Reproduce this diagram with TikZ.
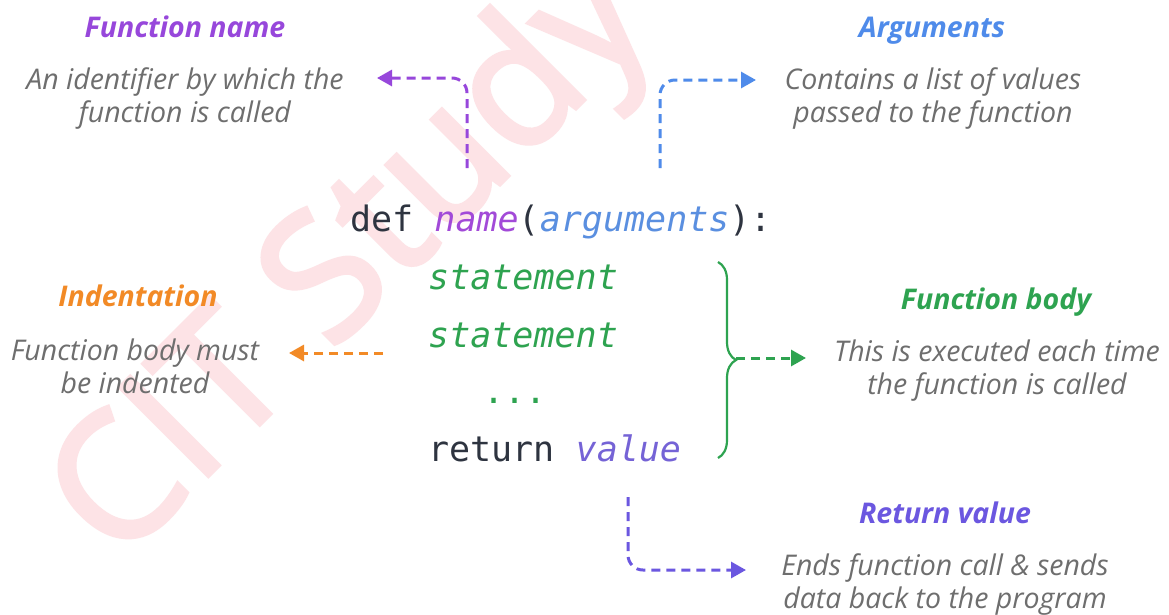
\documentclass[tikz,border=0pt]{standalone}
\usepackage{fontspec}
\setmainfont{Open Sans}
\setmonofont{DejaVu Sans Mono}
\newfontfamily\wmfont[FakeBold=2.5]{Open Sans}
\usetikzlibrary{arrows.meta,decorations.pathreplacing}
\definecolor{cpurple}{HTML}{9747DB}
\definecolor{cblue}{HTML}{4F8BEA}
\definecolor{corange}{HTML}{F28A26}
\definecolor{cgreen}{HTML}{2EA350}
\definecolor{cviolet}{HTML}{6B57E0}
\definecolor{cgray}{HTML}{6E6E6E}
\definecolor{cdark}{HTML}{2E3440}
\definecolor{cname}{HTML}{A24AD8}
\definecolor{cargs}{HTML}{5A8FE0}
\definecolor{cvalue}{HTML}{7563D6}
\definecolor{cwm}{HTML}{FDE3E6}
\tikzset{
  head/.style={font=\fontsize{28.5}{33}\selectfont\bfseries\itshape, inner sep=0pt, anchor=base},
  desc/.style={font=\fontsize{28.5}{33}\selectfont\itshape, text=cgray, align=center, inner sep=0pt},
  code/.style={font=\fontsize{35}{40}\selectfont\ttfamily, inner sep=0pt, anchor=base west},
  conn/.style={line width=3pt, dash pattern=on 9pt off 6pt, rounded corners=15pt,
    -{Triangle[length=15pt,width=16pt]}},
}
\begin{document}
\begin{tikzpicture}[x=1pt,y=-1pt]
\useasboundingbox (0,0) rectangle (1169,614);
\fill[white] (0,0) rectangle (1169,614);
\begin{scope}
\clip (0,0) rectangle (1169,614);
\node[anchor=base west, rotate=45, inner sep=0pt, text=cwm,
  font=\fontsize{175}{175}\wmfont] (wm) at (118,566) {CIT Study};
\end{scope}

% headings
\node[head, text=cpurple] (hname) at (185,37) {Function name};
\node[head, text=cblue] (hargs) at (932,37) {Arguments};
\node[head, text=corange] (hind) at (138,306) {Indentation};
\node[head, text=cgreen] (hbody) at (996,309) {Function body};
\node[head, text=cviolet] (hret) at (945,523) {Return value};

% descriptions
\node[desc] (dname) at (185,99) {An identifier by which the\\function is called};
\node[desc] (dargs) at (933,99) {Contains a list of values\\passed to the function};
\node[desc] (dind) at (135,366) {Function body must\\be indented};
\node[desc] (dbody) at (997,371) {This is executed each time\\the function is called};
\node[desc] (dret) at (945,585) {Ends function call \& sends\\data back to the program};

% code
\node[code] (ldef) at (350,231) {\textcolor{cdark}{def} \textcolor{cname}{\itshape name}\textcolor{cdark}{(}\textcolor{cargs}{\itshape arguments}\textcolor{cdark}{):}};
\node[code, text=cgreen] (ls1) at (428,289) {\itshape statement};
\node[code, text=cgreen] (ls2) at (428,347) {\itshape statement};
\node[code, text=cgreen] (ldots) at (483,403) {...};
\node[code] (lret) at (428,461) {\textcolor{cdark}{return} \textcolor{cvalue}{\itshape value}};

% connector end points
\coordinate (nameS) at (467,168);
\coordinate (nameT) at (377,78);
\coordinate (argsS) at (660,168);
\coordinate (argsT) at (756,80);
\coordinate (indS) at (383,353);
\coordinate (indT) at (289,353);
\coordinate (braceTop) at (718,262);
\coordinate (braceBot) at (718,458);
\coordinate (braceTip) at (736,358);
\coordinate (bodyT) at (806,358);
\coordinate (retS) at (628,497);
\coordinate (retT) at (746,570);

\draw[conn, cpurple] (nameS) |- (nameT);
\draw[conn, cblue] (argsS) |- (argsT);
\draw[conn, corange] (indS) -- (indT);
\draw[cgreen, line width=2.2pt, decorate, decoration={brace, amplitude=18pt, aspect=0.5}] (braceTop) -- (braceBot);
\draw[conn, cgreen] (braceTip) -- (bodyT);
\draw[conn, cviolet] (retS) |- (retT);
\end{tikzpicture}
\end{document}
